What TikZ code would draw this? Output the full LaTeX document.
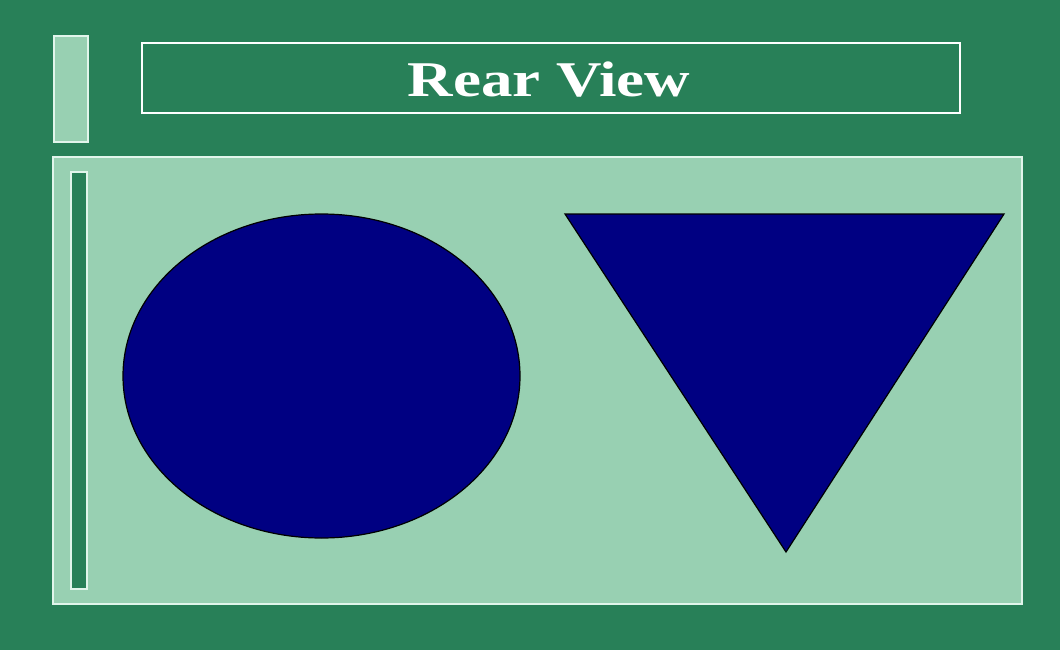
\documentclass[tikz,border=0pt]{standalone}
\usepackage{fontspec}
\setmainfont{Liberation Serif}
\definecolor{bgdark}{RGB}{40,128,88}
\definecolor{panel}{RGB}{152,208,178}
\definecolor{navyfill}{RGB}{0,0,130}
\definecolor{edge}{RGB}{225,245,235}
\begin{document}
\begin{tikzpicture}[x=1pt,y=-1pt,
  lightbox/.style={fill=panel,draw=edge,line width=1.5pt},
  darkbar/.style={fill=bgdark,draw=edge,line width=1.5pt},
  titlebox/.style={draw=white,line width=1.5pt},
  shapefill/.style={fill=navyfill,draw=black,line width=1.2pt}]
\fill[bgdark] (0,0) rectangle (1060,650);
\useasboundingbox (0,0) rectangle (1060,650);
\draw[lightbox] (54,36) rectangle (88,142);
\draw[titlebox] (142,43) rectangle (960,113);
\node[text=white,font=\bfseries\fontsize{50}{50}\selectfont,xscale=1.26] (title) at (549,80) {Rear View};
\draw[lightbox] (53,157) rectangle (1022,604);
\draw[darkbar] (71,172) rectangle (87,589);
\draw[shapefill] (321.5,376) ellipse [x radius=198.5, y radius=162];
\draw[shapefill] (565,214) coordinate (t1) -- (1004,214) coordinate (t2) -- (786,552) coordinate (t3) -- cycle;
\end{tikzpicture}
\end{document}
